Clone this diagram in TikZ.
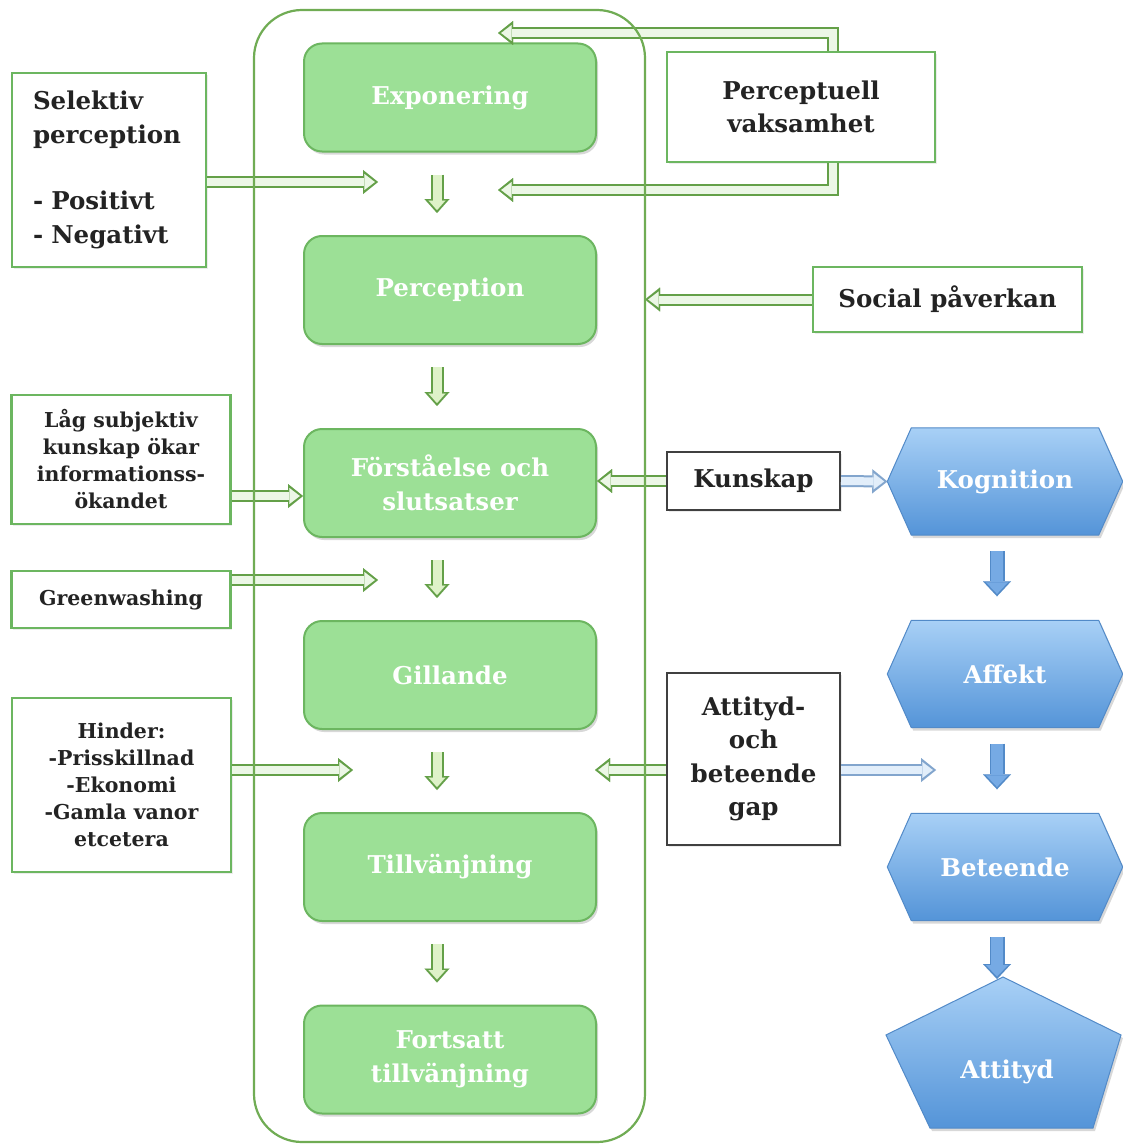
\documentclass[tikz,border=0pt]{standalone}
\usepackage{fontspec}
\setmainfont{DejaVu Serif}
\usetikzlibrary{arrows.meta,calc,shadows,backgrounds}
\definecolor{gfill}{RGB}{156,224,150}
\definecolor{gdraw}{RGB}{108,182,96}
\definecolor{cont}{RGB}{112,172,84}
\definecolor{harrow}{RGB}{100,160,72}
\definecolor{hfill}{RGB}{236,247,230}
\definecolor{dfill}{RGB}{222,242,200}
\definecolor{btop}{RGB}{168,208,246}
\definecolor{bbot}{RGB}{84,148,216}
\definecolor{bdraw}{RGB}{82,138,200}
\definecolor{bmid}{RGB}{118,170,228}
\definecolor{blarrow}{RGB}{130,165,205}
\definecolor{blfill}{RGB}{226,238,250}
\definecolor{txt}{RGB}{35,35,35}
\newcommand\bigfont{\fontsize{24.5}{33.5}\selectfont\bfseries}
\newcommand\smallfont{\fontsize{20.5}{27}\selectfont\bfseries}
\begin{document}
\begin{tikzpicture}[x=1pt,y=-1pt,
  gbox/.style={draw=gdraw, line width=2pt, fill=gfill, rounded corners=18pt,
    minimum width=292pt, minimum height=108pt, inner sep=0pt, text=white,
    font=\bigfont, align=center,
    drop shadow={shadow xshift=2pt, shadow yshift=-3pt, opacity=0.3}},
  lbox/.style={draw=gdraw, line width=2.2pt, fill=white, text=txt, align=center,
    inner sep=0pt, font=\bigfont,
    drop shadow={shadow xshift=1.5pt, shadow yshift=-2pt, opacity=0.15}},
  kbox/.style={draw=black!75, line width=2pt, fill=white, text=txt, align=center,
    inner sep=0pt, font=\bigfont,
    drop shadow={shadow xshift=1.5pt, shadow yshift=-2pt, opacity=0.15}},
  bnode/.style={text=white, font=\bigfont, minimum width=187pt, minimum height=107pt, inner sep=0pt},
  bshape/.style={draw=bdraw, line width=1pt, top color=btop, bottom color=bbot,
    drop shadow={shadow xshift=2pt, shadow yshift=-3pt, opacity=0.3}},
  garr/.style={draw=harrow, line width=12pt,
    -{Triangle[length=15pt,width=24pt,line width=0.01pt]},
    postaction={draw=hfill, line width=8pt, shorten >=3.2pt,
      -{Triangle[length=10.5pt,width=16pt,line width=0.01pt]}}},
  barr/.style={draw=blarrow, line width=12pt,
    -{Triangle[length=15pt,width=24pt,line width=0.01pt]},
    postaction={draw=blfill, line width=8pt, shorten >=3.2pt,
      -{Triangle[length=10.5pt,width=16pt,line width=0.01pt]}}},
  gdown/.style={draw=harrow, line width=13pt,
    -{Triangle[length=14pt,width=25pt,line width=0.01pt]},
    postaction={draw=dfill, line width=9pt, shorten >=3pt,
      -{Triangle[length=9.5pt,width=17pt,line width=0.01pt]}}},
  bdown/.style={draw=bdraw, line width=15pt,
    -{Triangle[length=15pt,width=28pt,line width=0.01pt]},
    postaction={draw=bmid, line width=12pt, shorten >=2.5pt,
      -{Triangle[length=11.5pt,width=22pt,line width=0.01pt]}}}
]
\useasboundingbox (0,0) rectangle (1123,1145);
\begin{scope}[on background layer]
  \fill[white] (0,0) rectangle (1123,1145);
\end{scope}

% main process boxes
\node[gbox] (exp)  at (450,97.5)  {Exponering};
\node[gbox] (perc) at (450,290)   {Perception};
\node[gbox] (fors) at (450,483)   {Förståelse och\\slutsatser};
\node[gbox] (gill) at (450,675)   {Gillande};
\node[gbox] (till) at (450,867)   {Tillvänjning};
\node[gbox] (fort) at (450,1059.5){Fortsatt\\tillvänjning};

% side boxes
\node[lbox, minimum width=194pt, minimum height=194pt, text width=152pt, align=left] (sel) at (109,170)
  {Selektiv\\perception\\[33pt]- Positivt\\- Negativt};
\node[lbox, minimum width=268pt, minimum height=110pt] (pv) at (801,107) {Perceptuell\\vaksamhet};
\node[lbox, minimum width=269pt, minimum height=65pt] (soc) at (947.5,299.5) {Social påverkan};
\node[lbox, font=\smallfont, minimum width=219pt, minimum height=129pt] (lag) at (121,459.5)
  {Låg subjektiv\\kunskap ökar\\informationss-\\ökandet};
\node[lbox, font=\smallfont, minimum width=219pt, minimum height=57pt] (green) at (121,599.5) {Greenwashing};
\node[lbox, font=\smallfont, minimum width=219pt, minimum height=174pt] (hind) at (121.5,785)
  {Hinder:\\-Prisskillnad\\-Ekonomi\\-Gamla vanor\\etcetera};
\node[kbox, minimum width=173pt, minimum height=58pt] (kun) at (753.5,481) {Kunskap};
\node[kbox, minimum width=173pt, minimum height=172pt] (gap) at (753.5,759) {Attityd-\\och\\beteende\\gap};

% blue model
\node[bnode] (kog) at (1005,481.5) {Kognition};
\node[bnode] (aff) at (1005,674) {Affekt};
\node[bnode] (bet) at (1005,867) {Beteende};
\node[text=white, font=\bigfont] (att) at (1007,1072) {Attityd};
\coordinate (pA) at (1003,977);
\begin{scope}[on background layer]
  \foreach \n in {kog,aff,bet}
    \draw[bshape] (\n.north west) -- (\n.north east) -- ($(\n.east)+(24,0)$)
      -- (\n.south east) -- (\n.south west) -- ($(\n.west)+(-24,0)$) -- cycle;
  \draw[bshape] (pA) -- (1121,1035) -- (1093,1128) -- (930,1128) -- (886,1035) -- cycle;
\end{scope}

% vertical flow arrows
\draw[gdown] ($(exp.south)+(-13,22)$)  -- ($(perc.north)+(-13,-22)$);
\draw[gdown] ($(perc.south)+(-13,22)$) -- ($(fors.north)+(-13,-22)$);
\draw[gdown] ($(fors.south)+(-13,22)$) -- ($(gill.north)+(-13,-22)$);
\draw[gdown] ($(gill.south)+(-13,22)$) -- ($(till.north)+(-13,-22)$);
\draw[gdown] ($(till.south)+(-13,22)$) -- ($(fort.north)+(-13,-22)$);
\draw[bdown] ($(kog.south)+(-8,16)$) -- ($(aff.north)+(-8,-24)$);
\draw[bdown] ($(aff.south)+(-8,16)$) -- ($(bet.north)+(-8,-24)$);
\draw[bdown] ($(bet.south)+(-8,16)$) -- ($(pA)+(-6,2)$);

% influences
\coordinate (selend) at (378,182);
\draw[garr] (sel.east |- selend) -- (selend);
\coordinate (pvtop) at (498,33);
\coordinate (pvbot) at (498,190);
\draw[garr] ($(pv.north)+(32,0)$) |- (pvtop);
\draw[garr] ($(pv.south)+(32,0)$) |- (pvbot);
\coordinate (socend) at (645,299.5);
\draw[garr] (soc.west) -- (socend);
\coordinate (lagend) at ($(fors.west)+(0,13)$);
\draw[garr] (lag.east |- lagend) -- (lagend);
\coordinate (grend) at (378,580);
\draw[garr] (green.east |- grend) -- (grend);
\coordinate (hiend) at (353,770);
\draw[garr] (hind.east |- hiend) -- (hiend);
\draw[garr] (kun.west) -- (kun.west -| fors.east);
\draw[barr] (kun.east) -- ($(kog.west)+(-24,0)$);
\coordinate (gapl) at (595,770);
\coordinate (gapr) at (936,770);
\draw[garr] (gap.west |- gapl) -- (gapl);
\draw[barr] (gap.east |- gapr) -- (gapr);

% container
\draw[cont, line width=2.2pt, rounded corners=48pt] (254,10) rectangle (645,1142);
\end{tikzpicture}
\end{document}
